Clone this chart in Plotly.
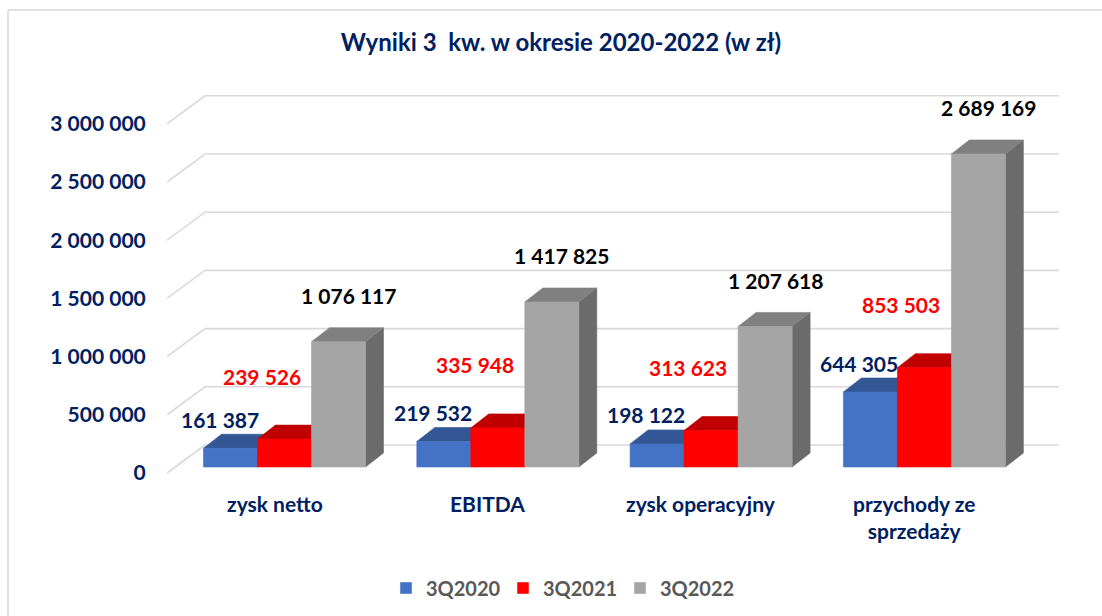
import plotly.graph_objects as go

# ---------------- data ----------------
categories = ["zysk netto", "EBITDA", "zysk operacyjny", "przychody ze<br>sprzedaży"]
series_names = ["3Q2020", "3Q2021", "3Q2022"]
values_2020 = [161387, 219532, 198122, 644305]
values_2021 = [239526, 335948, 313623, 853503]
values_2022 = [1076117, 1417825, 1207618, 2689169]
tick_values = [0, 500000, 1000000, 1500000, 2000000, 2500000, 3000000]
tick_labels = ["0", "500 000", "1 000 000", "1 500 000", "2 000 000", "2 500 000", "3 000 000"]
title_text = "Wyniki 3\u00a0 kw. w okresie 2020-2022 (w zł)"

series_values = [values_2020, values_2021, values_2022]

# ---------------- style / geometry ----------------
W, H = 1102, 616
PLOT_L, PLOT_R, PLOT_T, PLOT_B = 167, 1059, 90, 480
PX_PER_VAL = 58.2 / 500000
PX_PER_CAT = 213.3
FLOOR_FRONT_PX = 473
GROUP0_PX = 284.5

yr0 = (FLOOR_FRONT_PX - PLOT_B) / PX_PER_VAL
yr1 = yr0 + (PLOT_B - PLOT_T) / PX_PER_VAL
xr0 = (PLOT_L - GROUP0_PX) / PX_PER_CAT
xr1 = xr0 + (PLOT_R - PLOT_L) / PX_PER_CAT


def ux(px):
    return px / PX_PER_CAT


def uy(px):
    return px / PX_PER_VAL


def paper_y(py):
    return (PLOT_B - py) / (PLOT_B - PLOT_T)


def paper_x(px):
    return (px - PLOT_L) / (PLOT_R - PLOT_L)


WALL_DX, WALL_DY = ux(38), uy(28)
BAR_W = ux(54)
BAR_BASE = uy(6)
BAR_DX, BAR_DY = ux(18), uy(14)

front_colors = ["#4472C4", "#FF0000", "#A5A5A5"]
top_colors = ["#335694", "#C00000", "#808080"]
side_colors = ["#2A4A80", "#A00000", "#6B6B6B"]
label_colors = ["#002060", "#FF0000", "#000000"]
label_dx_px = [-11, -23, 10]
label_dy_px = [29, 63, 46]
NAVY = "#002060"
FONT = "Lato"

fig = go.Figure()

# gridlines (front stub + back wall line)
gx, gy = [], []
for v in tick_values:
    gx += [xr0, xr0 + WALL_DX, xr1, None]
    gy += [v, v + WALL_DY, v + WALL_DY, None]
fig.add_trace(go.Scatter(x=gx, y=gy, mode="lines", line=dict(color="#D9D9D9", width=1.6),
                         hoverinfo="skip", showlegend=False))


def poly(xs, ys, color):
    fig.add_trace(go.Scatter(x=xs + [xs[0]], y=ys + [ys[0]], mode="lines", fill="toself",
                             fillcolor=color, line=dict(color=color, width=0.6),
                             hoverinfo="skip", showlegend=False))


annotations = []
for i in range(len(categories)):
    for s in range(len(series_names)):
        v = series_values[s][i]
        xc = i + (s - 1) * BAR_W
        x0, x1 = xc - BAR_W / 2, xc + BAR_W / 2
        y0, y1 = BAR_BASE, BAR_BASE + v
        # side face
        poly([x1, x1 + BAR_DX, x1 + BAR_DX, x1], [y0, y0 + BAR_DY, y1 + BAR_DY, y1], side_colors[s])
        # top face
        poly([x0, x1, x1 + BAR_DX, x0 + BAR_DX], [y1, y1, y1 + BAR_DY, y1 + BAR_DY], top_colors[s])
        # front face
        poly([x0, x1, x1, x0], [y0, y0, y1, y1], front_colors[s])
        annotations.append(dict(
            x=xc + ux(label_dx_px[s]), y=y1 + uy(label_dy_px[s]), xref="x", yref="y",
            text=f"{v:,}".replace(",", " "), showarrow=False,
            font=dict(family=FONT, size=21, color=label_colors[s], weight=700),
            xanchor="center", yanchor="middle"))

# legend entries
for s, name in enumerate(series_names):
    fig.add_trace(go.Bar(x=[None], y=[None], name=name, marker_color=front_colors[s]))

# category labels
for i, c in enumerate(categories):
    annotations.append(dict(
        x=i + ux(-10), y=paper_y(489), xref="x", yref="paper", text=c, showarrow=False,
        font=dict(family=FONT, size=21, color=NAVY, weight=700),
        xanchor="center", yanchor="top", align="center"))

# chart border (left and top edges)
shapes = [
    dict(type="line", xref="paper", yref="paper", x0=paper_x(8), y0=paper_y(10), x1=paper_x(8),
         y1=paper_y(H + 5), line=dict(color="#D9D9D9", width=1.5)),
    dict(type="line", xref="paper", yref="paper", x0=paper_x(8), y0=paper_y(10), x1=paper_x(W + 5),
         y1=paper_y(10), line=dict(color="#D9D9D9", width=1.5)),
]

fig.update_layout(
    width=W, height=H,
    margin=dict(l=PLOT_L, r=W - PLOT_R, t=PLOT_T, b=H - PLOT_B, autoexpand=False),
    paper_bgcolor="white", plot_bgcolor="white",
    barmode="overlay",
    title=dict(text=title_text, x=561 / W, y=1 - 43 / H, xref="container", yref="container",
               xanchor="center", yanchor="middle",
               font=dict(family=FONT, size=24, color=NAVY, weight=700)),
    xaxis=dict(range=[xr0, xr1], visible=False, fixedrange=True),
    yaxis=dict(range=[yr0, yr1], tickvals=tick_values, ticktext=tick_labels,
               showgrid=False, zeroline=False, showline=False,
               ticks="outside", ticklen=16, tickcolor="rgba(0,0,0,0)",
               tickfont=dict(family=FONT, size=21, color=NAVY, weight=700), fixedrange=True),
    legend=dict(orientation="h", xref="container", yref="container", x=386 / W, y=1 - 588 / H,
                xanchor="left", yanchor="middle", entrywidth=72, entrywidthmode="pixels",
                font=dict(family=FONT, size=20, color="#595959", weight=700)),
    annotations=annotations,
    shapes=shapes,
    showlegend=True,
)

fig.write_html("out.html", config={"displayModeBar": False},
               post_script="document.body.style.margin='0';")
